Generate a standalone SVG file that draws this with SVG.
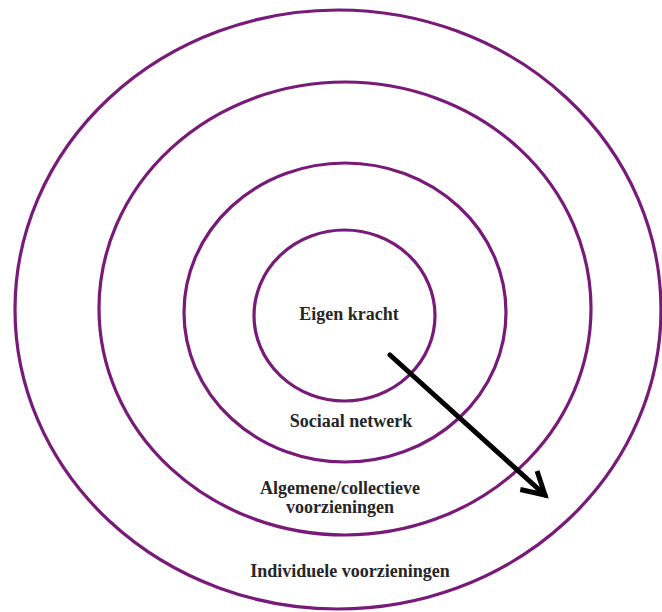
<svg xmlns="http://www.w3.org/2000/svg" width="662" height="612" viewBox="0 0 662 612">
<style>
.ring{fill:none;stroke:#781a78;stroke-width:3.2}
.lbl{font-family:"Liberation Serif","Times New Roman",serif;font-weight:bold;font-size:18px;fill:#262626;text-anchor:middle}
.conn{fill:none;stroke:#000;stroke-width:5;stroke-linecap:round}
</style>
<defs>
<marker id="arr" markerUnits="userSpaceOnUse" markerWidth="40" markerHeight="40" refX="30" refY="20" orient="auto" overflow="visible">
<path d="M8,7.5 L30,20 L8,32.5" fill="none" stroke="#000" stroke-width="5" stroke-linecap="butt" stroke-linejoin="miter"/>
</marker>
</defs>
<rect width="662" height="612" fill="#fff"/>
<g id="individuele">
<ellipse class="ring" cx="338" cy="309.5" rx="323" ry="299.5"/>
<text class="lbl" x="350" y="577">Individuele voorzieningen</text>
</g>
<g id="algemene">
<ellipse class="ring" cx="345" cy="308.5" rx="246" ry="226.5"/>
<text class="lbl" x="340" y="494">Algemene/collectieve</text>
<text class="lbl" x="340" y="513">voorzieningen</text>
</g>
<g id="sociaal">
<ellipse class="ring" cx="345" cy="312.5" rx="161" ry="149.5"/>
<text class="lbl" x="351" y="427">Sociaal netwerk</text>
</g>
<g id="eigen">
<ellipse class="ring" cx="344.5" cy="315.5" rx="90.5" ry="85.5"/>
<text class="lbl" x="349" y="320">Eigen kracht</text>
</g>
<g id="connectors">
<line class="conn" x1="390" y1="355" x2="545" y2="495" marker-end="url(#arr)"/>
</g>
</svg>
